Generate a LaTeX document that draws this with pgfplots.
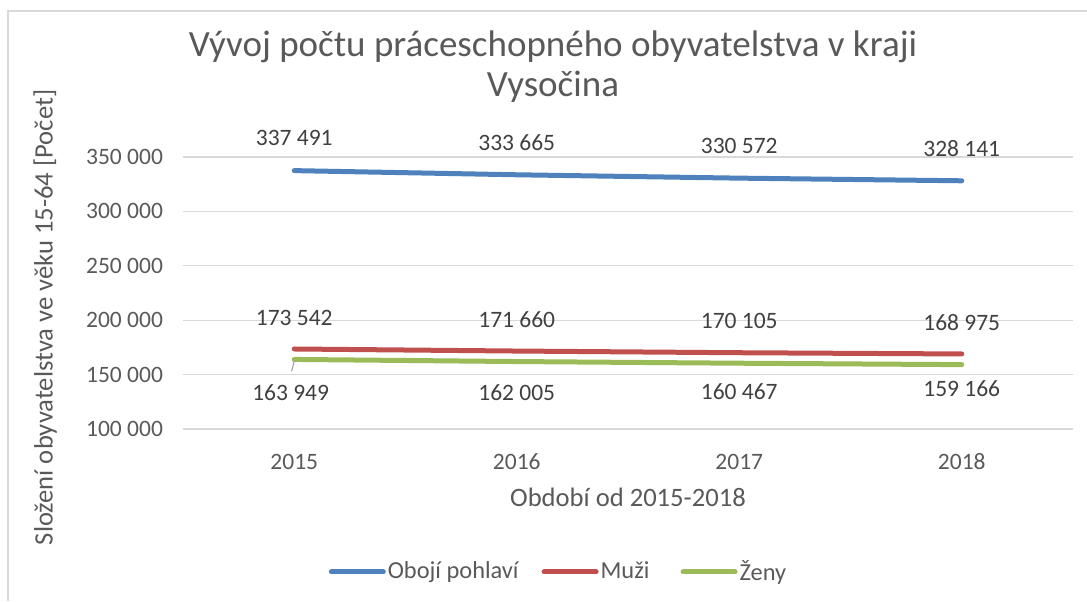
\documentclass[border=0pt]{standalone}
\usepackage{pgfplots}
\pgfplotsset{compat=1.18}
\usepackage{pgfplotstable}
\usepackage{fontspec}
\setmainfont{Carlito}

\definecolor{serA}{HTML}{4F81BD}
\definecolor{serB}{HTML}{C0504D}
\definecolor{serC}{HTML}{9BBB59}
\definecolor{txt}{HTML}{595959}
\definecolor{lab}{HTML}{404040}
\definecolor{grd}{HTML}{D9D9D9}

% x = rok (0 = 2015), dx/dy = posun popisku v pt
\pgfplotstableread[col sep=comma]{
x,y,lab,dx,dy
0,337491,337 491,0,16.2
1,333665,333 665,0,16.2
2,330572,330 572,0,16.2
3,328141,328 141,0,16.2
}\tabBoth
\pgfplotstableread[col sep=comma]{
x,y,lab,dx,dy
0,173542,173 542,0,15.7
1,171660,171 660,0,15.7
2,170105,170 105,0,15.7
3,168975,168 975,0,15.7
}\tabMen
\pgfplotstableread[col sep=comma]{
x,y,lab,dx,dy
0,163949,163 949,-1.8,-16.5
1,162005,162 005,0,-15.5
2,160467,160 467,0,-14
3,159166,159 166,0,-12.2
}\tabWomen

\newcommand\fs{\fontsize{11.75}{14}\selectfont}

\begin{document}
\begin{tikzpicture}
\path[use as bounding box] (0,0) rectangle (543.5pt,300.5pt);
\draw[grd, line width=0.6pt] (4pt,0pt) -- (4pt,295pt) -- (543.5pt,295pt);
\node[txt, font=\fontsize{18.5}{22}\selectfont] at (276.5pt,277pt) {Vývoj počtu práceschopného obyvatelstva v kraji};
\node[txt, font=\fontsize{18.5}{22}\selectfont] at (276.5pt,257pt) {Vysočina};

\begin{axis}[
    at={(91.5pt,86pt)}, anchor=south west,
    scale only axis,
    width=445pt, height=136pt,
    clip=false,
    xmin=-0.5, xmax=3.5,
    ymin=100000, ymax=350000,
    scaled y ticks=false,
    xtick={0,1,2,3},
    xticklabels={2015,2016,2017,2018},
    ytick={100000,150000,200000,250000,300000,350000},
    yticklabels={100 000,150 000,200 000,250 000,300 000,350 000},
    ymajorgrids,
    major grid style={grd, line width=0.65pt},
    axis line style={draw=none},
    tick style={draw=none},
    ticklabel style={font=\fs, text=txt},
    xticklabel style={anchor=center, yshift=-16.5pt},
    yticklabel style={anchor=east, xshift=-6.5pt},
    xlabel={Období od 2015-2018},
    ylabel={Složení obyvatelstva ve věku 15-64 [Počet]},
    label style={font=\fontsize{13.3}{16}\selectfont, text=txt},
    xlabel style={at={(axis description cs:0.5,-0.25)}, anchor=center},
    ylabel style={at={(axis description cs:-0.155,0.41)}, anchor=center},
    legend style={at={(axis description cs:0.4219,-0.5257)}, anchor=center,
        draw=none, fill=none, font=\fontsize{12.2}{14}\selectfont, text=txt,
        nodes={inner sep=1pt},
        /tikz/column 2/.style={column sep=10.5pt},
        /tikz/column 4/.style={column sep=14.5pt}},
    legend columns=3,
    legend cell align=left,
    legend image code/.code={\draw[#1, line width=2.5pt, line cap=round] (0pt,0pt) -- (26pt,0pt);},
    every axis plot/.append style={line width=2.5pt, line cap=round, line join=round},
    point meta=explicit symbolic,
    visualization depends on={\thisrow{dx} \as \labdx},
    visualization depends on={\thisrow{dy} \as \labdy},
    nodes near coords,
    nodes near coords style={font=\fs, text=lab, anchor=center,
        xshift=\labdx, yshift=\labdy},
]
\addplot[serA, no markers] table[x=x, y=y, meta=lab] {\tabBoth};
\addlegendentry{Obojí pohlaví}
\addplot[serB, no markers] table[x=x, y=y, meta=lab] {\tabMen};
\addlegendentry{Muži}
\addplot[serC, no markers] table[x=x, y=y, meta=lab] {\tabWomen};
\addlegendentry{Ženy}
\draw[gray!80, line width=0.5pt] (axis cs:0,162500) -- (axis cs:-0.012,153000);
\end{axis}
\end{tikzpicture}
\end{document}
